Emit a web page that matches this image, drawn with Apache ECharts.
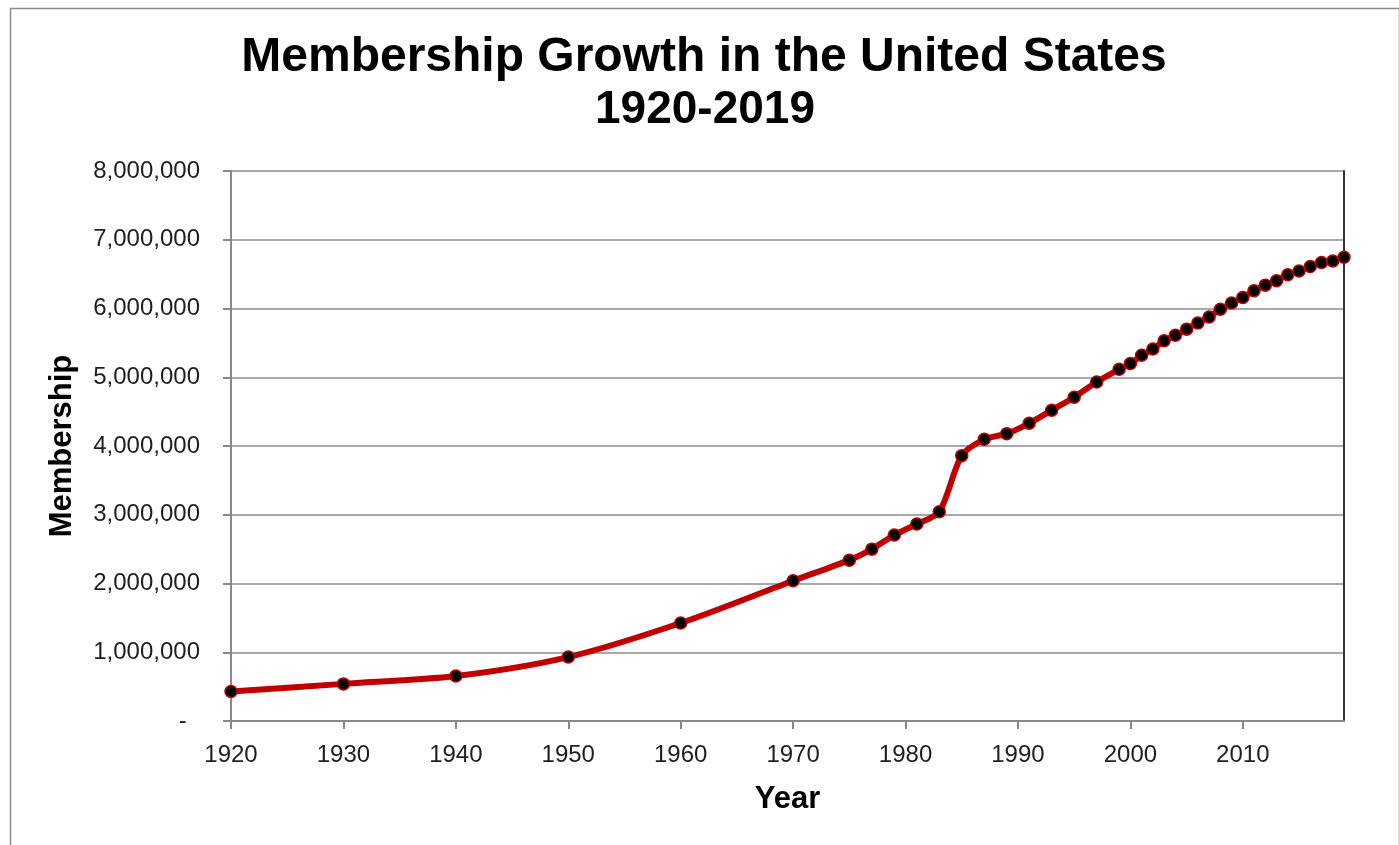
<!DOCTYPE html>
<html>
<head>
<meta charset="utf-8">
<script src="https://cdn.jsdelivr.net/npm/echarts@6/dist/echarts.min.js"></script>
<style>
  html, body { margin: 0; padding: 0; background: #fff; }
  #main { width: 1399px; height: 845px; }
</style>
</head>
<body>
<div id="main"></div>
<script>
// data
var years = [1920, 1930, 1940, 1950, 1960, 1970, 1975, 1977, 1979, 1981, 1983, 1985, 1987, 1989, 1991, 1993, 1995, 1997, 1999,
  2000, 2001, 2002, 2003, 2004, 2005, 2006, 2007, 2008, 2009, 2010, 2011, 2012, 2013, 2014, 2015, 2016, 2017, 2018, 2019];
var members = [430000, 540000, 655000, 930000, 1425000, 2040000, 2340000, 2500000, 2705000, 2865000, 3044000, 3860000, 4097000, 4180000, 4330000, 4520000, 4710000, 4930000, 5115000,
  5200000, 5320000, 5410000, 5530000, 5610000, 5700000, 5790000, 5875000, 5990000, 6080000, 6160000, 6260000, 6340000, 6405000, 6490000, 6545000, 6610000, 6670000, 6690000, 6745000];
var xTicks = [1920, 1930, 1940, 1950, 1960, 1970, 1980, 1990, 2000, 2010];

var chart = echarts.init(document.getElementById('main'));

function fmtNum(v) {
  if (v === 0) return '-  ';
  return String(v).replace(/\B(?=(\d{3})+(?!\d))/g, ',');
}

var font = 'Liberation Sans';

var option = {
  backgroundColor: '#fff',
  animation: false,
  graphic: [
    {
      type: 'rect', left: 8, top: 6, silent: true,
      shape: { width: 1389, height: 860 },
      style: { fill: 'none', stroke: '#8a8a8a', lineWidth: 1.5 }
    },
    {
      type: 'text', x: 704, y: 58, silent: true,
      style: { text: 'Membership Growth in the United States', align: 'center', verticalAlign: 'middle',
        font: 'bold 48px "Liberation Sans"', fill: '#000' }
    },
    {
      type: 'text', x: 705, y: 110, silent: true,
      style: { text: '1920-2019', align: 'center', verticalAlign: 'middle',
        font: 'bold 46px "Liberation Sans"', fill: '#000' }
    }
  ],
  grid: { left: 231, top: 171, right: 55, bottom: 124 },
  xAxis: {
    type: 'value',
    min: 1920, max: 2019, interval: 10,
    name: 'Year', nameLocation: 'middle', nameGap: 63,
    nameTextStyle: { fontFamily: font, fontWeight: 'bold', fontSize: 31, color: '#000' },
    axisLine: { show: true, lineStyle: { color: '#888', width: 2 } },
    axisTick: { show: true, length: 8, customValues: xTicks, lineStyle: { color: '#888', width: 2 } },
    axisLabel: { margin: 22, customValues: xTicks, fontFamily: font, fontSize: 24, color: '#1e1e1e',
      formatter: function (v) { return String(v); } },
    splitLine: { show: false }
  },
  yAxis: [
    {
      type: 'value',
      min: 0, max: 8000000, interval: 1000000,
      name: 'Membership', nameLocation: 'middle', nameGap: 153, nameRotate: 90,
      nameTextStyle: { fontFamily: font, fontWeight: 'bold', fontSize: 31, color: '#000' },
      axisLine: { show: true, lineStyle: { color: '#888', width: 2 } },
      axisTick: { show: true, length: 8, lineStyle: { color: '#888', width: 2 } },
      axisLabel: { margin: 31, fontFamily: font, fontSize: 24, color: '#1e1e1e', formatter: fmtNum },
      splitLine: { show: true, lineStyle: { color: '#8c8c8c', width: 1.5 } }
    },
    {
      type: 'value', position: 'right',
      min: 0, max: 8000000, interval: 1000000,
      axisLine: { show: true, lineStyle: { color: '#333', width: 2 } },
      axisTick: { show: false }, axisLabel: { show: false }, splitLine: { show: false }
    }
  ],
  series: [
    {
      type: 'line',
      smooth: 0.3,
      data: years.map(function (y, i) { return [y, members[i]]; }),
      lineStyle: { color: '#c00000', width: 6 },
      symbol: 'circle', symbolSize: 12,
      itemStyle: { color: '#000', borderColor: '#c00000', borderWidth: 1.5 },
      clip: false
    }
  ]
};

chart.setOption(option);
</script>
</body>
</html>
